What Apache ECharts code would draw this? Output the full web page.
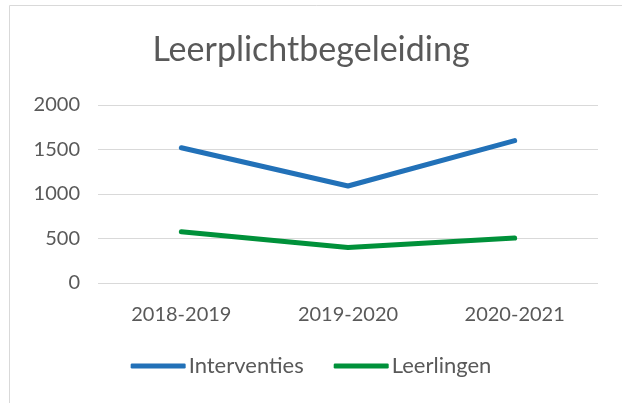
<!DOCTYPE html>
<html>
<head>
<meta charset="utf-8">
<script src="https://cdn.jsdelivr.net/npm/echarts@6/dist/echarts.min.js"></script>
<style>
  html, body { margin: 0; padding: 0; background: #fff; }
  #chart { width: 622px; height: 403px; }
</style>
</head>
<body>
<div id="chart"></div>
<script>
// schooljaren
const categories = ['2018-2019', '2019-2020', '2020-2021']
const interventies = [1520, 1090, 1600]
const leerlingen = [575, 400, 505]
const yTicks = [0, 500, 1000, 1500, 2000]

const chart = echarts.init(document.getElementById('chart'))
const font = 'Lato, "Open Sans", sans-serif'

chart.setOption({
  animation: false,
  textStyle: { fontFamily: font },
  title: {
    text: 'Leerplichtbegeleiding',
    left: 'center',
    top: 28,
    textStyle: { fontFamily: font, fontSize: 34, fontWeight: 'normal', color: '#595959' }
  },
  graphic: [{ // rand van het grafiekvak
    type: 'rect',
    shape: { x: 9.5, y: 5.5, width: 700, height: 500 },
    style: { fill: 'none', stroke: '#d9d9d9', lineWidth: 1 },
    silent: true
  }],
  legend: {
    bottom: 21,
    left: 'center',
    itemWidth: 55,
    itemHeight: 5,
    itemGap: 30,
    icon: 'roundRect',
    textStyle: { fontFamily: font, fontSize: 22, color: '#595959', padding: [0, 0, 0, -2] },
    data: ['Interventies', 'Leerlingen']
  },
  grid: { left: 98, right: 24, top: 105, bottom: 120, containLabel: false },
  xAxis: {
    type: 'category',
    data: categories,
    boundaryGap: true,
    axisLine: { show: false },
    axisTick: { show: false },
    axisLabel: { fontFamily: font, fontSize: 20, color: '#595959', margin: 22 }
  },
  yAxis: {
    type: 'value',
    min: yTicks[0],
    max: yTicks[yTicks.length - 1],
    interval: 500,
    axisLine: { show: false },
    axisTick: { show: false },
    splitLine: { lineStyle: { color: '#d9d9d9', width: 1 } },
    axisLabel: {
      fontFamily: font, fontSize: 20, color: '#595959', margin: 18,
      formatter: (v) => String(v)
    }
  },
  series: [
    {
      name: 'Interventies',
      type: 'line',
      data: interventies,
      symbol: 'none',
      lineStyle: { color: '#2271b8', width: 5, cap: 'round', join: 'round' },
      itemStyle: { color: '#2271b8' }
    },
    {
      name: 'Leerlingen',
      type: 'line',
      data: leerlingen,
      symbol: 'none',
      lineStyle: { color: '#00913a', width: 5, cap: 'round', join: 'round' },
      itemStyle: { color: '#00913a' }
    }
  ]
})
</script>
</body>
</html>
